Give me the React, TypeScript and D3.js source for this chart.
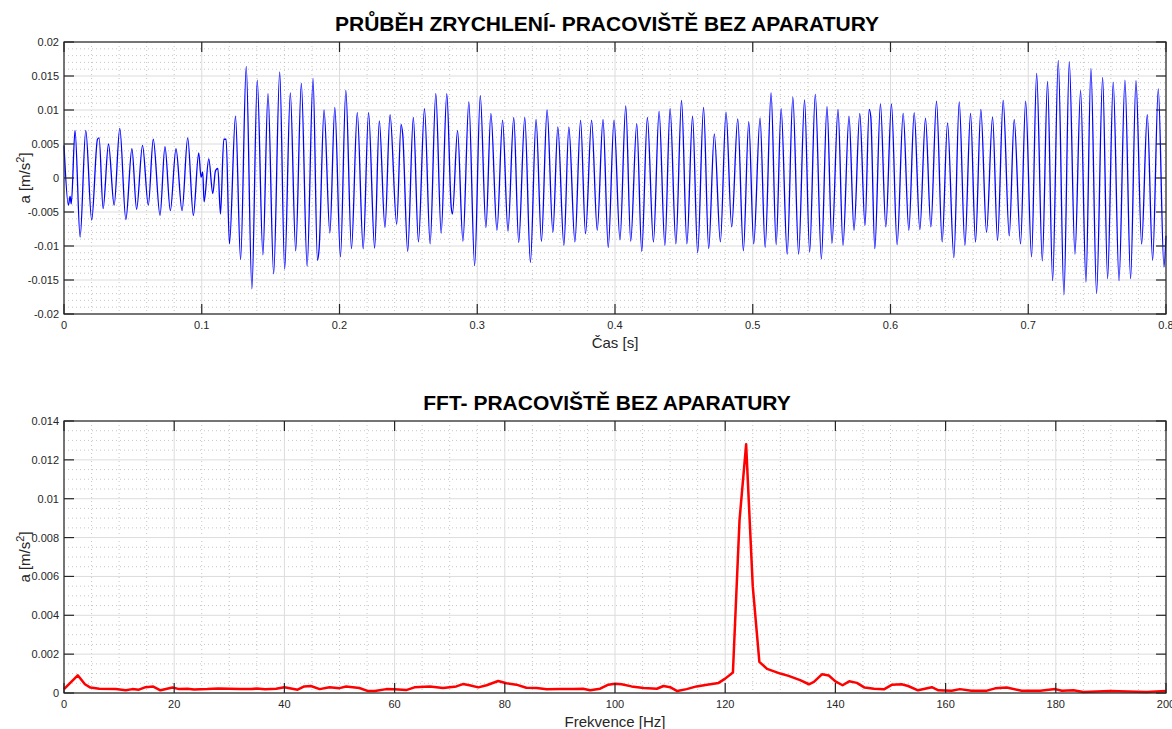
import React from 'react'
import * as d3 from 'd3'

// time signal: extrema (t in ms, a in m/s^2)
const timeMs = [
    0.0, 3.2, 4.4, 5.3, 8.0, 11.7, 15.8, 20.1, 24.3, 25.5,
    28.4, 32.3, 36.4, 40.5, 44.9, 49.3, 52.7, 57.0, 61.2, 64.8,
    69.7, 73.3, 77.2, 81.3, 85.7, 89.8, 93.9, 97.8, 99.5, 100.7,
    101.7, 105.1, 108.0, 110.0, 111.7, 113.6, 116.0, 117.7, 120.1, 124.5,
    128.2, 132.3, 136.4, 140.3, 144.4, 148.1, 152.2, 156.6, 160.2, 164.3,
    168.2,
    172.3, 176.5, 180.8, 184.0, 185.2, 188.8, 193.0, 196.6, 200.7, 204.6,
    208.7, 212.9, 217.2, 221.1, 225.5, 228.9, 233.0, 236.7, 241.5, 244.7,
    245.9, 249.5, 253.6, 257.3, 261.7, 265.8, 269.9, 273.8, 277.9, 281.1,
    282.0, 285.7, 289.6, 293.9, 298.1, 302.2, 306.3, 309.9, 314.3, 318.4,
    322.3, 326.5, 330.1, 334.5, 338.6, 342.7, 346.6, 350.7, 354.9, 358.5,
    362.9, 366.5, 370.9,
    375.0, 378.6, 383.0, 387.1, 391.3, 395.1, 399.3, 403.6, 407.8, 411.4,
    415.8, 419.4, 423.5, 427.9, 432.0, 436.2, 440.0, 444.2, 448.3, 452.2,
    456.3, 460.0, 464.3, 468.0, 472.1, 476.5, 480.6, 484.7, 489.1, 493.2,
    497.1, 500.7, 505.3, 509.0, 513.3, 517.0, 520.6, 525.0, 529.1, 533.3,
    537.6, 541.3, 545.4, 549.8, 553.9, 557.5, 561.9, 565.5, 569.9, 573.5,
    577.7,
    581.5, 584.5, 585.7, 588.6, 592.7, 596.6, 600.7, 604.8, 609.2, 613.3,
    617.2, 621.3, 625.4, 629.3, 633.4, 637.5, 641.4, 646.0, 649.9, 654.0,
    658.1, 661.7, 665.6, 669.7, 674.1, 677.7, 681.8, 686.2, 689.8, 694.4,
    698.1, 702.4, 706.1, 710.2, 714.0, 717.7, 721.8, 725.9, 729.8, 733.9,
    738.0, 741.9, 745.5, 749.6, 754.0, 757.6, 761.7, 765.9, 770.2, 774.3,
    778.2, 782.3, 786.4, 790.3, 794.4, 798.5, 800.0,
]
const accel = [
    0.0048, -0.004, -0.0027, -0.0038, 0.007, -0.0087, 0.007, -0.0062, 0.0057, 0.0059,
    -0.0045, 0.005, -0.004, 0.0073, -0.0061, 0.0043, -0.0046, 0.0048, -0.004, 0.0057,
    -0.0055, 0.0046, -0.0048, 0.0043, -0.0048, 0.0059, -0.0055, 0.0037, 0.0001, 0.0009,
    -0.0035, 0.0028, -0.0023, 0.0011, 0.0014, -0.0053, 0.0057, 0.0057, -0.0097, 0.0091,
    -0.012, 0.0164, -0.0163, 0.0144, -0.0113, 0.0124, -0.0141, 0.0156, -0.0134, 0.0125,
    -0.0107,
    0.0139, -0.013, 0.0146, -0.0121, -0.0104, 0.01, -0.0081, 0.0104, -0.0116, 0.0129,
    -0.0104, 0.0096, -0.0104, 0.0096, -0.0103, 0.0084, -0.0073, 0.0093, -0.0068, 0.0079,
    0.0064, -0.0108, 0.0089, -0.0094, 0.0102, -0.0097, 0.0124, -0.0081, 0.0124, -0.0043,
    -0.0053, 0.007, -0.0093, 0.0112, -0.0129, 0.0121, -0.0073, 0.0095, -0.0077, 0.0085,
    -0.0078, 0.0089, -0.0095, 0.0089, -0.0124, 0.0086, -0.0093, 0.01, -0.008, 0.0075,
    -0.0099, 0.0075, -0.0094,
    0.0085, -0.0082, 0.0085, -0.0077, 0.0086, -0.0102, 0.0085, -0.0091, 0.0106, -0.0093,
    0.008, -0.0108, 0.0089, -0.0094, 0.0098, -0.0099, 0.0102, -0.0097, 0.0114, -0.0097,
    0.0091, -0.011, 0.0104, -0.0104, 0.0065, -0.0094, 0.0097, -0.0072, 0.0087, -0.0107,
    0.0083, -0.0097, 0.0088, -0.0102, 0.0125, -0.0098, 0.0102, -0.0112, 0.0119, -0.0112,
    0.0115, -0.0109, 0.0123, -0.0119, 0.0105, -0.0096, 0.0101, -0.0099, 0.0091, -0.0077,
    0.0095,
    -0.007, 0.0101, 0.009, -0.0104, 0.0109, -0.0072, 0.0109, -0.0098, 0.0095, -0.0077,
    0.0096, -0.0076, 0.0088, -0.0072, 0.0113, -0.0094, 0.0081, -0.0117, 0.0112, -0.0099,
    0.0095, -0.0094, 0.0101, -0.008, 0.009, -0.0092, 0.0114, -0.0085, 0.0086, -0.0097,
    0.0113, -0.0116, 0.0154, -0.0122, 0.0142, -0.0151, 0.0173, -0.0172, 0.0171, -0.0112,
    0.0129, -0.0153, 0.0161, -0.017, 0.0148, -0.0148, 0.0141, -0.0151, 0.0144, -0.0148,
    0.0143, -0.0097, 0.0093, -0.0121, 0.0131, -0.0131, -0.0085,
]

// FFT spectrum
const freqHz = [
    0, 2.5, 3.8, 4.8, 6.4, 9.4, 11.2, 12.4, 13.6, 14.8, 16.2, 17.5, 19.7, 20.9, 22.4,
    23.6, 26, 28, 30, 32, 34, 35, 36.5, 38.5, 40, 42.4, 43.6, 44.8, 46.4, 48.2, 50,
    51.2, 53.6, 55.2, 56.4, 58.5, 60, 62.1, 63.6, 66.4, 68.8, 71.2, 72.4, 73.6, 75.2,
    76.7, 78.8, 80.3, 82.1, 83.9, 85.8, 87.6, 90, 92.4, 94.2, 95.5, 97.3, 98.8, 100,
    101.2, 103, 105.2, 107.6, 108.8, 110, 111.3, 113, 114.8, 116.7, 118.8, 120, 121.4,
    122.6, 123.8, 125, 126.2, 127.6, 130, 131.5, 133.6, 135.2, 136.1, 137.6, 138.8,
    140, 141.3, 142.5, 143.9, 145.3, 147, 148.8, 150.3, 152, 153.2, 155, 157.5, 158.7,
    161.1, 162.6, 164.7, 167.5, 169, 171.1, 173.8, 177.2, 179.9, 181.1, 183.2, 185,
    189.9, 194.7, 196.5, 200,
]
const fftAmp = [
    0.0002, 0.00091, 0.00045, 0.00028, 0.00022, 0.0002, 0.00014, 0.0002, 0.00017, 0.0003,
    0.00033, 0.00014, 0.00028, 0.0002, 0.00022, 0.00018, 0.0002, 0.00023, 0.00022, 0.00021,
    0.0002, 0.00023, 0.00019, 0.00022, 0.0003, 0.00017, 0.00034, 0.00036, 0.0002, 0.0003,
    0.00025, 0.00033, 0.00026, 0.0001, 0.0001, 0.0002, 0.00019, 0.00015, 0.00029, 0.00033,
    0.00026, 0.00034, 0.00046, 0.0004, 0.00029, 0.0004, 0.00062, 0.0005, 0.00043, 0.00027,
    0.00026, 0.00019, 0.0002, 0.0002, 0.00022, 0.00014, 0.00022, 0.00043, 0.00048, 0.00045,
    0.00034, 0.00026, 0.00022, 0.00036, 0.0003, 0.0001, 0.0002, 0.00034, 0.00043, 0.00052,
    0.00074, 0.00105, 0.0089, 0.0128, 0.0055, 0.0016, 0.00124, 0.001, 0.00088, 0.00066,
    0.00045, 0.00057, 0.00097, 0.0009, 0.0006, 0.0004, 0.0006, 0.00052, 0.00028, 0.00022,
    0.00019, 0.00043, 0.00045, 0.00036, 0.00014, 0.0003, 0.00014, 0.00012, 0.0002, 0.00012,
    0.00012, 0.00024, 0.00028, 0.00012, 0.00012, 0.0002, 0.00012, 0.00014, 0.00005, 0.0001,
    0.00007, 0.00005, 0.0001,
]

const timeTicks = [0, 0.1, 0.2, 0.3, 0.4, 0.5, 0.6, 0.7, 0.8]
const accelTicks = [-0.02, -0.015, -0.01, -0.005, 0, 0.005, 0.01, 0.015, 0.02]
const freqTicks = [0, 20, 40, 60, 80, 100, 120, 140, 160, 180, 200]
const ampTicks = [0, 0.002, 0.004, 0.006, 0.008, 0.01, 0.012, 0.014]

const FONT = '"Liberation Sans", Arial, Helvetica, sans-serif'
const left = 64
const right = 1166

const fmt = (v: number) => (v === 0 ? '0' : String(+v.toFixed(4)))

interface PanelProps {
    top: number
    bottom: number
    x: d3.ScaleLinear<number, number>
    y: d3.ScaleLinear<number, number>
    xTicks: number[]
    yTicks: number[]
    xMinor: number
    yMinor: number
    title: string
    xLabel: string
    children: React.ReactNode
}

const Panel: React.FC<PanelProps> = ({ top, bottom, x, y, xTicks, yTicks, xMinor, yMinor, title, xLabel, children }) => {
    const [x0, x1] = x.domain()
    const [y0, y1] = y.domain()
    const minorX = d3.range(Math.round((x1 - x0) / xMinor) + 1).map((i) => x0 + i * xMinor)
    const minorY = d3.range(Math.round((y1 - y0) / yMinor) + 1).map((i) => y0 + i * yMinor)
    const isMajor = (v: number, ticks: number[]) => ticks.some((t) => Math.abs(t - v) < 1e-9)
    const midY = (top + bottom) / 2
    const tick = 10
    return (
        <g>
            <rect x={left} y={top} width={right - left} height={bottom - top} fill="#fff" />
            {/* minor grid */}
            {minorX.filter((v) => !isMajor(v, xTicks)).map((v, i) => (
                <line key={'mx' + i} x1={x(v)} x2={x(v)} y1={top} y2={bottom} stroke="#b8b8b8" strokeWidth={0.8} strokeDasharray="1 3" />
            ))}
            {minorY.filter((v) => !isMajor(v, yTicks)).map((v, i) => (
                <line key={'my' + i} x1={left} x2={right} y1={y(v)} y2={y(v)} stroke="#b8b8b8" strokeWidth={0.8} strokeDasharray="1 3" />
            ))}
            {/* major grid */}
            {xTicks.map((v) => (
                <line key={'gx' + v} x1={x(v)} x2={x(v)} y1={top} y2={bottom} stroke="#dcdcdc" strokeWidth={1} />
            ))}
            {yTicks.map((v) => (
                <line key={'gy' + v} x1={left} x2={right} y1={y(v)} y2={y(v)} stroke="#dcdcdc" strokeWidth={1} />
            ))}
            {children}
            {/* box + ticks */}
            <rect x={left} y={top} width={right - left} height={bottom - top} fill="none" stroke="#262626" strokeWidth={1.2} />
            {xTicks.map((v) => (
                <g key={'tx' + v}>
                    <line x1={x(v)} x2={x(v)} y1={bottom} y2={bottom - tick} stroke="#262626" strokeWidth={1.2} />
                    <line x1={x(v)} x2={x(v)} y1={top} y2={top + tick} stroke="#262626" strokeWidth={1.2} />
                    <text x={x(v)} y={bottom + 15} textAnchor="middle" fontSize={11} fill="#262626" fontFamily={FONT}>
                        {fmt(v)}
                    </text>
                </g>
            ))}
            {yTicks.map((v) => (
                <g key={'ty' + v}>
                    <line x1={left} x2={left + tick} y1={y(v)} y2={y(v)} stroke="#262626" strokeWidth={1.2} />
                    <line x1={right} x2={right - tick} y1={y(v)} y2={y(v)} stroke="#262626" strokeWidth={1.2} />
                    <text x={left - 5} y={y(v) + 4} textAnchor="end" fontSize={11} fill="#262626" fontFamily={FONT}>
                        {fmt(v)}
                    </text>
                </g>
            ))}
            <text x={607} y={top - 11} textAnchor="middle" fontSize={21} fontWeight="bold" fill="#000" fontFamily={FONT}>
                {title}
            </text>
            <text x={615} y={bottom + 34} textAnchor="middle" fontSize={15} fill="#262626" fontFamily={FONT}>
                {xLabel}
            </text>
            <text transform={`translate(30,${midY}) rotate(-90)`} textAnchor="middle" fontSize={15} fill="#262626" fontFamily={FONT}>
                a [m/s<tspan dy={-6} fontSize={11}>2</tspan>
                <tspan dy={6}>]</tspan>
            </text>
        </g>
    )
}

const App: React.FC = () => {
    const xTime = d3.scaleLinear().domain([0, 0.8]).range([left, right])
    const yAcc = d3.scaleLinear().domain([-0.02, 0.02]).range([314, 42])
    const xFreq = d3.scaleLinear().domain([0, 200]).range([left, right])
    const yAmp = d3.scaleLinear().domain([0, 0.014]).range([693, 421])

    const sig = timeMs.map((t, i) => [t / 1000, accel[i]] as [number, number])
    const spec = freqHz.map((f, i) => [f, fftAmp[i]] as [number, number])

    const sigLine = d3
        .line<[number, number]>()
        .x((d) => xTime(d[0]))
        .y((d) => yAcc(d[1]))
        .curve(d3.curveMonotoneX)
    const specLine = d3
        .line<[number, number]>()
        .x((d) => xFreq(d[0]))
        .y((d) => yAmp(d[1]))

    return (
        <svg width={1172} height={729} style={{ position: 'absolute', left: 0, top: 0, background: '#fff' }}>
            <rect width={1172} height={729} fill="#fff" />
            <Panel
                top={42}
                bottom={314}
                x={xTime}
                y={yAcc}
                xTicks={timeTicks}
                yTicks={accelTicks}
                xMinor={0.02}
                yMinor={0.001}
                title="PRŮBĚH ZRYCHLENÍ- PRACOVIŠTĚ BEZ APARATURY"
                xLabel="Čas [s]"
            >
                <path d={sigLine(sig) || ''} fill="none" stroke="#0000ff" strokeWidth={1.3} />
            </Panel>
            <Panel
                top={421}
                bottom={693}
                x={xFreq}
                y={yAmp}
                xTicks={freqTicks}
                yTicks={ampTicks}
                xMinor={5}
                yMinor={0.0005}
                title="FFT- PRACOVIŠTĚ BEZ APARATURY"
                xLabel="Frekvence [Hz]"
            >
                <path d={specLine(spec) || ''} fill="none" stroke="#ff0000" strokeWidth={2.5} strokeLinejoin="round" />
            </Panel>
        </svg>
    )
}

export default App
